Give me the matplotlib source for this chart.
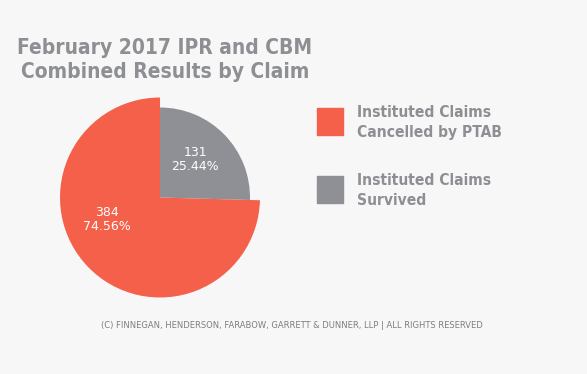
import matplotlib
matplotlib.use('Agg')
from matplotlib import pyplot as plt

labels = ['Instituted Claims\nSurvived', 'Instituted Claims\nCancelled by PTAB']
counts = [131, 384]
colors = ['#8e9095', '#f4604a']

BG = '#f7f7f8'
GRAY_TXT = '#8d8f93'

fig = plt.figure(figsize=(5.87, 3.74), dpi=100, facecolor=BG)

ax = fig.add_axes([60 / 587, 76.5 / 374, 200 / 587, 200 / 374])
ax.set_facecolor(BG)


def fmt(pct):
    n = int(round(pct * sum(counts) / 100.0))
    return '%d\n%.2f%%' % (n, pct)


wedges, _, autotexts = ax.pie(counts, colors=colors, startangle=90, counterclock=False,
                              autopct=fmt, pctdistance=0.55,
                              wedgeprops=dict(linewidth=0),
                              textprops=dict(color='white', fontsize=9, linespacing=1.1))
# survived slice is drawn a bit smaller
wedges[0].set_radius(0.9)
autotexts[0].set_position((0.35, 0.375))
autotexts[1].set_position((-0.53, -0.22))
ax.set_xlim(-1, 1)
ax.set_ylim(-1, 1)
ax.set_aspect('equal')
ax.axis('off')

fig.text(165 / 587, 1 - 60 / 374, 'February 2017 IPR and CBM\nCombined Results by Claim',
         ha='center', va='center', fontsize=15, fontweight='bold', color=GRAY_TXT,
         fontstretch='condensed', linespacing=1.3)

# legend, cancelled first
leg_y = [121.5, 189.5]
for (lab, col), y in zip(list(zip(labels, colors))[::-1], leg_y):
    fig.patches.append(plt.Rectangle((317 / 587, 1 - (y + 13.5) / 374), 26 / 587, 27 / 374,
                                     transform=fig.transFigure, color=col, figure=fig))
    fig.text(357 / 587, 1 - (y + 1) / 374, lab, ha='left', va='center', fontsize=11.2,
             fontweight='bold', color=GRAY_TXT, fontstretch='condensed', linespacing=1.4)

fig.text(292 / 587, 1 - 326 / 374,
         '(C) FINNEGAN, HENDERSON, FARABOW, GARRETT & DUNNER, LLP | ALL RIGHTS RESERVED',
         ha='center', va='center', fontsize=6, color='#7d7e82')

fig.savefig('out.png', dpi=100, facecolor=BG)
